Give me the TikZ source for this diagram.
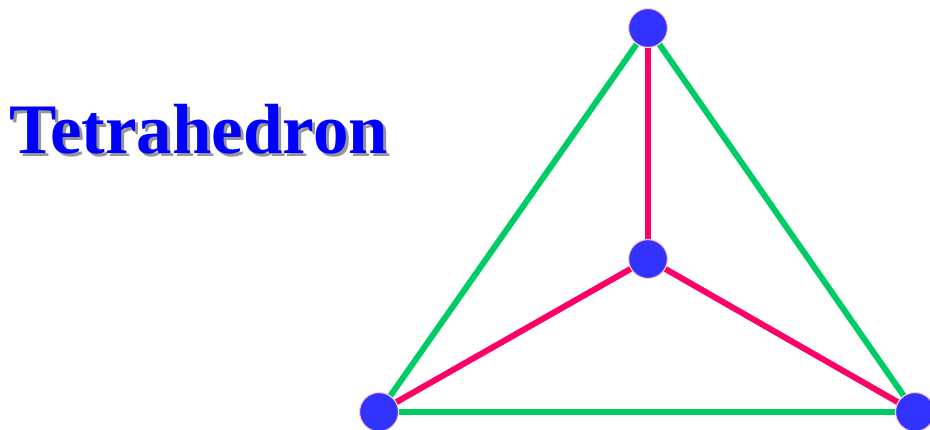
\documentclass[tikz,border=0pt]{standalone}
\usepackage{fontspec}
\setmainfont{Liberation Serif}
\definecolor{edgegreen}{RGB}{0,204,102}
\definecolor{edgepink}{RGB}{255,0,102}
\definecolor{vfill}{RGB}{51,51,255}
\definecolor{vring}{RGB}{255,204,204}
\definecolor{shadowgray}{RGB}{150,150,150}
\newcommand{\shadowed}[1]{\rlap{\hspace{3pt}\raisebox{-3pt}{\textcolor{shadowgray}{#1}}}#1}
\tikzset{
  vertex/.style={circle,fill=vfill,draw=vring,line width=1.2pt,minimum size=39pt,inner sep=0pt},
  greenedge/.style={draw=edgegreen,line width=6pt},
  pinkedge/.style={draw=edgepink,line width=6pt},
  titletext/.style={font=\fontsize{71}{71}\selectfont\bfseries,inner sep=0pt,anchor=base west}
}
\begin{document}
\begin{tikzpicture}[x=1pt,y=-1pt]
\useasboundingbox (0,0) rectangle (930,429);
\node[titletext,text=blue] (title) at (9,153) {\shadowed{Tetrahedron}};
\coordinate (pt) at (648,28);
\coordinate (pc) at (648,259);
\coordinate (pl) at (379,412);
\coordinate (pr) at (915,412);
\draw[greenedge] (pl) -- (pr);
\draw[greenedge] (pl) -- (pt);
\draw[greenedge] (pr) -- (pt);
\draw[pinkedge] (pc) -- (pt);
\draw[pinkedge] (pc) -- (pl);
\draw[pinkedge] (pc) -- (pr);
\node[vertex] (vt) at (pt) {};
\node[vertex] (vc) at (pc) {};
\node[vertex] (vl) at (pl) {};
\node[vertex] (vr) at (pr) {};
\end{tikzpicture}
\end{document}
